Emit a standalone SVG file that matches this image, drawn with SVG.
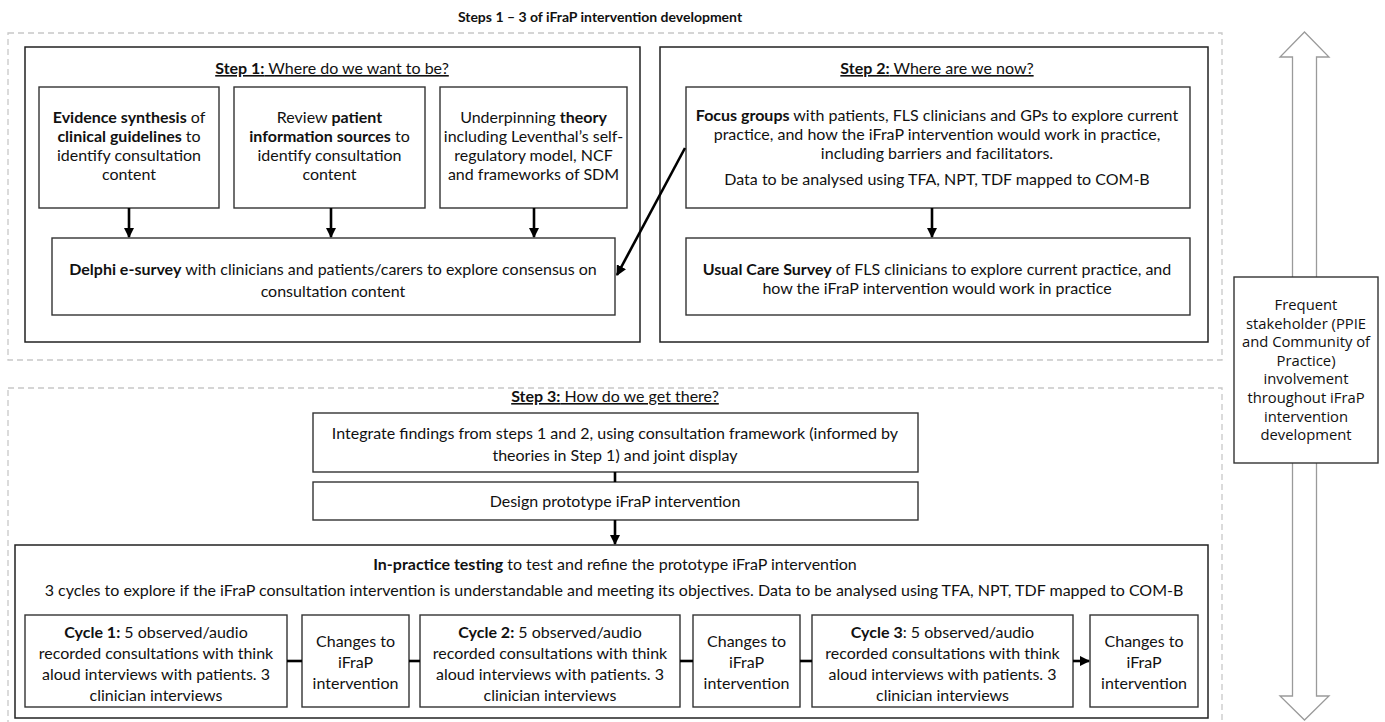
<svg xmlns="http://www.w3.org/2000/svg" width="1385" height="722" viewBox="0 0 1385 722">
<style>
.t{font-family:Lato,"Liberation Sans",sans-serif;font-size:16px;fill:#111;text-anchor:middle}
.b{font-weight:bold}
.u{text-decoration:underline}
.box{fill:#fff;stroke:#333;stroke-width:1.4}
.frame{fill:none;stroke:#222;stroke-width:1.5}
.dash{fill:none;stroke:#c8c8c8;stroke-width:1.3;stroke-dasharray:6 4}
.con{fill:none;stroke:#000;stroke-width:2.6}
.side{font-family:"Open Sans","DejaVu Sans",sans-serif;font-size:14.8px;fill:#111;text-anchor:middle}
</style>
<defs>
<marker id="ah" viewBox="0 0 10 10" refX="9" refY="5" markerWidth="4" markerHeight="4" orient="auto" markerUnits="strokeWidth">
<path d="M0,0 L10,5 L0,10 z" fill="#000"/>
</marker>
</defs>
<rect width="1385" height="722" fill="#fff"/>
<text x="600" y="22" class="t b" style="font-size:14px">Steps 1 – 3 of iFraP intervention development</text>

<rect class="dash" x="8" y="33" width="1214" height="327"/>
<rect class="dash" x="8" y="388" width="1214" height="340"/>

<g id="stakeholder-arrow">
<polygon points="1304.5,32 1329,57 1316.5,57 1316.5,696 1329,696 1304.5,720 1280,696 1292.5,696 1292.5,57 1280,57" fill="#fff" stroke="#9a9a9a" stroke-width="1.3"/>
</g>

<g id="step1">
<rect class="frame" x="25" y="47" width="615" height="295"/>
<text x="332" y="74" class="t u"><tspan class="b">Step 1:</tspan> Where do we want to be?</text>
</g>
<g id="evidence">
<rect class="box" x="39" y="87" width="180" height="121"/>
<text class="t"><tspan x="129" y="123"><tspan class="b">Evidence synthesis</tspan> of</tspan><tspan x="129" y="142"><tspan class="b">clinical guidelines</tspan> to</tspan><tspan x="129" y="161">identify consultation</tspan><tspan x="129" y="180">content</tspan></text>
</g>
<g id="review">
<rect class="box" x="234" y="87" width="191" height="121"/>
<text class="t"><tspan x="329.5" y="123">Review <tspan class="b">patient</tspan></tspan><tspan x="329.5" y="142"><tspan class="b">information sources</tspan> to</tspan><tspan x="329.5" y="161">identify consultation</tspan><tspan x="329.5" y="180">content</tspan></text>
</g>
<g id="theory">
<rect class="box" x="440" y="87" width="187" height="121"/>
<text class="t"><tspan x="533.5" y="123">Underpinning <tspan class="b">theory</tspan></tspan><tspan x="533.5" y="142">including Leventhal’s self-</tspan><tspan x="533.5" y="161">regulatory model, NCF</tspan><tspan x="533.5" y="180">and frameworks of SDM</tspan></text>
</g>
<g id="delphi">
<rect class="box" x="52" y="238" width="563" height="77"/>
<text class="t"><tspan x="333" y="275"><tspan class="b">Delphi e-survey</tspan> with clinicians and patients/carers to explore consensus on</tspan><tspan x="333" y="297">consultation content</tspan></text>
</g>

<g id="step2">
<rect class="frame" x="660" y="47" width="548" height="295"/>
<text x="937" y="74" class="t u"><tspan class="b">Step 2:</tspan> Where are we now?</text>
</g>
<g id="focus">
<rect class="box" x="686" y="87" width="504" height="121"/>
<text class="t"><tspan x="937" y="121"><tspan class="b">Focus groups</tspan> with patients, FLS clinicians and GPs to explore current</tspan><tspan x="937" y="140">practice, and how the iFraP intervention would work in practice,</tspan><tspan x="937" y="159">including barriers and facilitators.</tspan><tspan x="937" y="185">Data to be analysed using TFA, NPT, TDF mapped to COM-B</tspan></text>
</g>
<g id="usualcare">
<rect class="box" x="686" y="238" width="504" height="77"/>
<text class="t"><tspan x="937" y="275"><tspan class="b">Usual Care Survey</tspan> of FLS clinicians to explore current practice, and</tspan><tspan x="937" y="294">how the iFraP intervention would work in practice</tspan></text>
</g>

<g id="step3-title">
<text x="615" y="402" class="t u"><tspan class="b">Step 3:</tspan> How do we get there?</text>
</g>
<g id="integrate">
<rect class="box" x="313" y="413" width="605" height="59"/>
<text class="t"><tspan x="615" y="439">Integrate findings from steps 1 and 2, using consultation framework (informed by</tspan><tspan x="615" y="461">theories in Step 1) and joint display</tspan></text>
</g>
<g id="design">
<rect class="box" x="313" y="482" width="605" height="38"/>
<text x="615" y="507" class="t">Design prototype iFraP intervention</text>
</g>
<g id="inpractice">
<rect class="frame" x="15" y="545" width="1193" height="173"/>
<text class="t"><tspan x="615" y="570"><tspan class="b">In-practice testing</tspan> to test and refine the prototype iFraP intervention</tspan><tspan x="614" y="596">3 cycles to explore if the iFraP consultation intervention is understandable and meeting its objectives. Data to be analysed using TFA, NPT, TDF mapped to COM-B</tspan></text>
</g>
<g id="cycle1">
<rect class="box" x="25" y="615" width="262" height="92"/>
<text class="t"><tspan x="156" y="637.5"><tspan class="b">Cycle 1:</tspan> 5 observed/audio</tspan><tspan x="156" y="658.5">recorded consultations with think</tspan><tspan x="156" y="679.5">aloud interviews with patients. 3</tspan><tspan x="156" y="700.5">clinician interviews</tspan></text>
</g>
<g id="changes1">
<rect class="box" x="302" y="615" width="107" height="92"/>
<text class="t"><tspan x="355.5" y="647">Changes to</tspan><tspan x="355.5" y="668">iFraP</tspan><tspan x="355.5" y="689">intervention</tspan></text>
</g>
<g id="cycle2">
<rect class="box" x="420" y="615" width="260" height="92"/>
<text class="t"><tspan x="550" y="637.5"><tspan class="b">Cycle 2:</tspan> 5 observed/audio</tspan><tspan x="550" y="658.5">recorded consultations with think</tspan><tspan x="550" y="679.5">aloud interviews with patients. 3</tspan><tspan x="550" y="700.5">clinician interviews</tspan></text>
</g>
<g id="changes2">
<rect class="box" x="693" y="615" width="107" height="92"/>
<text class="t"><tspan x="746.5" y="647">Changes to</tspan><tspan x="746.5" y="668">iFraP</tspan><tspan x="746.5" y="689">intervention</tspan></text>
</g>
<g id="cycle3">
<rect class="box" x="812" y="615" width="261" height="92"/>
<text class="t"><tspan x="942.5" y="637.5"><tspan class="b">Cycle 3</tspan>: 5 observed/audio</tspan><tspan x="942.5" y="658.5">recorded consultations with think</tspan><tspan x="942.5" y="679.5">aloud interviews with patients. 3</tspan><tspan x="942.5" y="700.5">clinician interviews</tspan></text>
</g>
<g id="changes3">
<rect class="box" x="1090" y="615" width="108" height="92"/>
<text class="t"><tspan x="1144" y="647">Changes to</tspan><tspan x="1144" y="668">iFraP</tspan><tspan x="1144" y="689">intervention</tspan></text>
</g>

<g id="stakeholder">
<rect class="box" x="1234" y="277" width="144" height="186"/>
<text class="side"><tspan x="1306" y="310">Frequent</tspan><tspan x="1306" y="328.6">stakeholder (PPIE</tspan><tspan x="1306" y="347.2">and Community of</tspan><tspan x="1306" y="365.8">Practice)</tspan><tspan x="1306" y="384.4">involvement</tspan><tspan x="1306" y="403">throughout iFraP</tspan><tspan x="1306" y="421.6">intervention</tspan><tspan x="1306" y="440.2">development</tspan></text>
</g>

<g id="connectors">
<line class="con" x1="129" y1="208" x2="129" y2="237" marker-end="url(#ah)"/>
<line class="con" x1="331" y1="208" x2="331" y2="237" marker-end="url(#ah)"/>
<line class="con" x1="534" y1="208" x2="534" y2="237" marker-end="url(#ah)"/>
<line class="con" x1="685" y1="148" x2="617" y2="275" marker-end="url(#ah)"/>
<line class="con" x1="932" y1="208" x2="932" y2="237" marker-end="url(#ah)"/>
<line class="con" x1="615" y1="472" x2="615" y2="482"/>
<line class="con" x1="615" y1="520" x2="615" y2="544" marker-end="url(#ah)"/>
<line class="con" x1="287" y1="661" x2="302" y2="661"/>
<line class="con" x1="409" y1="661" x2="420" y2="661"/>
<line class="con" x1="680" y1="661" x2="693" y2="661"/>
<line class="con" x1="800" y1="661" x2="812" y2="661"/>
<line class="con" x1="1073" y1="661" x2="1089" y2="661" marker-end="url(#ah)"/>
</g>
</svg>
